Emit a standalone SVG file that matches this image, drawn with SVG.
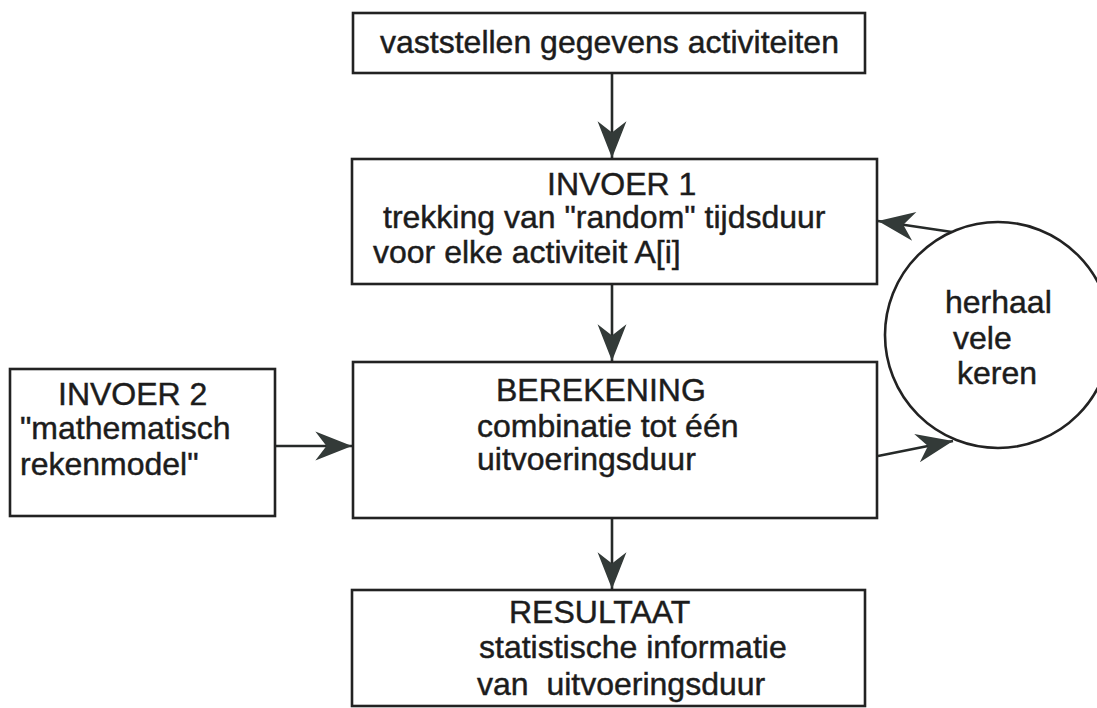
<svg xmlns="http://www.w3.org/2000/svg" width="1097" height="708" viewBox="0 0 1097 708">
<style>
.box{fill:#fff;stroke:#222;stroke-width:2.6}
.t{font-family:"Liberation Sans",Arial,sans-serif;font-size:32px;fill:#1c1c1c;stroke:#1c1c1c;stroke-width:0.45}
.ln{stroke:#262a29;stroke-width:2.6;fill:none}
</style>
<defs>
<marker id="ah" markerUnits="userSpaceOnUse" markerWidth="40" markerHeight="40" viewBox="-34 -15 36 30" refX="0" refY="0" orient="auto" overflow="visible">
<path d="M0,0 L-33,-13 L-23,0 L-33,13 Z" fill="#333a38"/>
</marker>
</defs>
<rect width="1097" height="708" fill="#fff"/>
<g id="connectors">
<line class="ln" x1="612" y1="73" x2="612" y2="158" marker-end="url(#ah)"/>
<line class="ln" x1="612" y1="284" x2="612" y2="361" marker-end="url(#ah)"/>
<line class="ln" x1="612" y1="518" x2="612" y2="589" marker-end="url(#ah)"/>
<line class="ln" x1="275" y1="446" x2="352" y2="446" marker-end="url(#ah)"/>
<line class="ln" x1="952" y1="232" x2="878" y2="221" marker-end="url(#ah)"/>
<line class="ln" x1="878" y1="456" x2="953" y2="441" marker-end="url(#ah)"/>
</g>
<g id="node-vaststellen">
<rect class="box" x="353" y="13" width="512" height="60"/>
<text class="t" x="380" y="53">vaststellen gegevens activiteiten</text>
</g>
<g id="node-invoer1">
<rect class="box" x="352" y="159" width="525" height="125"/>
<text class="t" x="547" y="195">INVOER 1</text>
<text class="t" x="383" y="228">trekking van "random" tijdsduur</text>
<text class="t" x="373" y="263">voor elke activiteit A[i]</text>
</g>
<g id="node-invoer2">
<rect class="box" x="10" y="369" width="265" height="147"/>
<text class="t" x="58" y="405">INVOER 2</text>
<text class="t" x="20" y="439">"mathematisch</text>
<text class="t" x="20" y="475">rekenmodel"</text>
</g>
<g id="node-berekening">
<rect class="box" x="353" y="362" width="524" height="156"/>
<text class="t" x="496" y="401">BEREKENING</text>
<text class="t" x="477" y="437">combinatie tot één</text>
<text class="t" x="477" y="470">uitvoeringsduur</text>
</g>
<g id="node-herhaal">
<ellipse cx="998" cy="335" rx="113" ry="113" fill="#fff" stroke="#222" stroke-width="2.6"/>
<text class="t" x="945" y="313">herhaal</text>
<text class="t" x="953" y="349">vele</text>
<text class="t" x="957" y="384">keren</text>
</g>
<g id="node-resultaat">
<rect class="box" x="352" y="590" width="513" height="116"/>
<text class="t" x="509" y="623">RESULTAAT</text>
<text class="t" x="479" y="658">statistische informatie</text>
<text class="t" x="477" y="695" xml:space="preserve">van  uitvoeringsduur</text>
</g>
</svg>
